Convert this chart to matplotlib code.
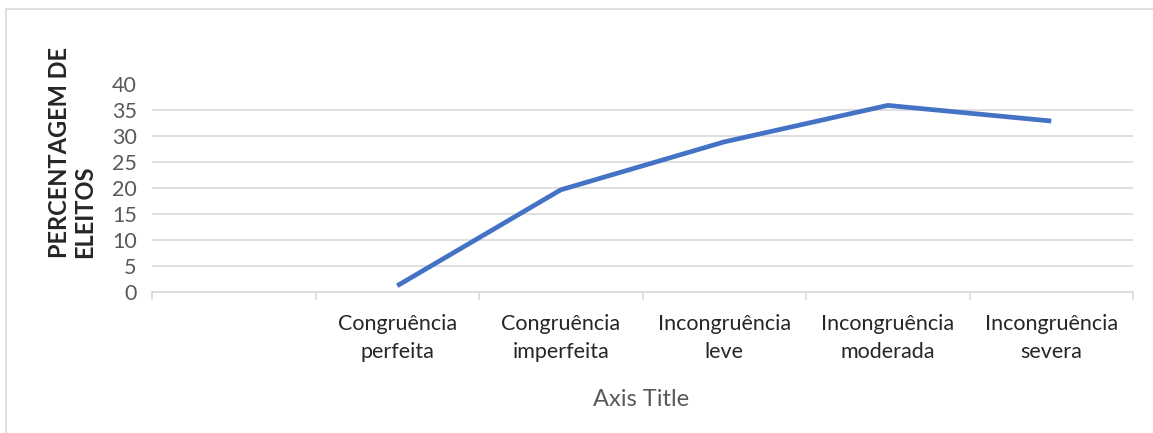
import matplotlib.pyplot as plt
from matplotlib.patches import Rectangle

plt.rcParams['font.family'] = ['Lato', 'DejaVu Sans']

categorias = ['', 'Congruência\nperfeita', 'Congruência\nimperfeita',
              'Incongruência\nleve', 'Incongruência\nmoderada', 'Incongruência\nsevera']
percentagem = [None, 1.2, 19.6, 28.8, 35.8, 32.8]
yticks = [0, 5, 10, 15, 20, 25, 30, 35, 40]

W, H = 1153, 433
fig = plt.figure(figsize=(W / 100, H / 100), dpi=100)
ax = fig.add_axes([152 / W, 1 - 292 / H, (1133 - 152) / W, (292 - 83.5) / H])

# moldura do gráfico
fig.patches.append(Rectangle((6 / W, -0.1), 1.2, 1 - 9.5 / H + 0.1, transform=fig.transFigure,
                             fill=False, edgecolor='#d9d9d9', linewidth=1.2))

x = [i for i, v in enumerate(percentagem) if v is not None]
y = [v for v in percentagem if v is not None]
ax.plot(x, y, color='#4472C4', linewidth=3.4, solid_joinstyle='round', solid_capstyle='butt')

ax.set_xlim(-0.5, len(categorias) - 0.5)
ax.set_ylim(0, 40)
ax.set_yticks(yticks)
ax.set_yticklabels([str(t) for t in yticks], fontsize=15.5, color='#595959')
ax.tick_params(axis='y', length=0, pad=11)
ax.grid(axis='y', color='#d9d9d9', linewidth=1.2)
ax.set_axisbelow(True)

ax.set_xticks(range(len(categorias)))
ax.set_xticklabels(categorias, fontsize=15.5, color='#262626', linespacing=1.5)
ax.set_xticks([i - 0.5 for i in range(len(categorias) + 1)], minor=True)
ax.tick_params(axis='x', which='major', length=0, pad=16)
ax.tick_params(axis='x', which='minor', length=6, color='#d9d9d9', width=1.2)

for s in ['top', 'right', 'left']:
    ax.spines[s].set_visible(False)
ax.spines['bottom'].set_color('#d9d9d9')
ax.spines['bottom'].set_linewidth(1.2)

fig.text(641 / W, 1 - 400 / H, 'Axis Title', ha='center', va='center', fontsize=17, color='#595959')
fig.text(72 / W, 1 - 153 / H, 'PERCENTAGEM DE\nELEITOS', rotation=90, ha='center', va='center',
         multialignment='left', fontsize=17, fontweight='bold', color='#262626', linespacing=1.1)

fig.savefig('out.png', dpi=100)
